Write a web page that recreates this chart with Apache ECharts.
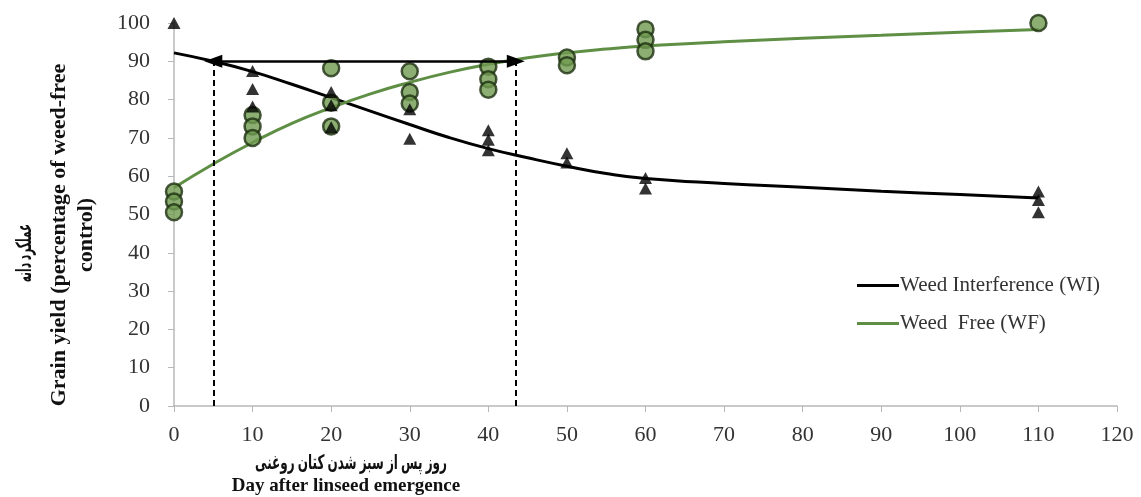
<!DOCTYPE html>
<html>
<head>
<meta charset="utf-8">
<script src="https://cdn.jsdelivr.net/npm/echarts@6/dist/echarts.min.js"></script>
<style>
html, body { margin: 0; padding: 0; background: #fff; }
#chart { width: 1141px; height: 497px; }
</style>
</head>
<body>
<div id="chart"></div>
<script>
var myChart = echarts.init(document.getElementById("chart"));

// observed points, weed interference (triangles)
var wiPoints = [
    [0, 100],
    [10, 87.5], [10, 82.8], [10, 78.2],
    [20, 82], [20, 78.5], [20, 72.8],
    [30, 77.5], [30, 69.8],
    [40, 72], [40, 69.5], [40, 66.8],
    [50, 66], [50, 63.6],
    [60, 59.5], [60, 56.8],
    [110, 56], [110, 53.8], [110, 50.6]
];
// observed points, weed free (circles)
var wfPoints = [
    [0, 56], [0, 53.4], [0, 50.6],
    [10, 76], [10, 73], [10, 70],
    [20, 88.2], [20, 79.2], [20, 73],
    [30, 87.4], [30, 82], [30, 79],
    [40, 88.6], [40, 85.3], [40, 82.6],
    [50, 91], [50, 89],
    [60, 98.4], [60, 95.6], [60, 92.6],
    [110, 100]
];
// fitted curves
var curveDays = [0, 5, 10, 15, 20, 25, 30, 35, 40, 45, 50, 55, 60, 70, 80, 90, 100, 110];
var wiCurve = [92.2, 90, 87.3, 84, 80.5, 77, 73.5, 70.1, 67.2, 64.8, 62.6, 60.7, 59.4, 58.1, 57.1, 56.1, 55.2, 54.3];
var wfCurve = [57, 63.2, 68.8, 73.8, 77.9, 81.5, 84.5, 87.1, 89.2, 90.9, 92.2, 93.2, 94, 95.1, 96, 96.8, 97.6, 98.3];
// critical period limits (days) and yield level of the arrow
var criticalDays = [5, 43.5];
var criticalLevel = 90;

var xTicks = [0, 120, 10];
var yTicks = [0, 100, 10];

var serif = "'Liberation Serif', 'Times New Roman', 'DejaVu Serif', serif";
var persian = "'Noto Sans', 'DejaVu Sans', sans-serif";

function pairs(xs, ys) {
    return xs.map(function (x, i) { return [x, ys[i]]; });
}

var option = {
    backgroundColor: "#fff",
    animation: false,
    grid: { left: 174, right: 24, top: 23, bottom: 91, outerBoundsMode: "none" },
    xAxis: {
        type: "value",
        min: xTicks[0],
        max: xTicks[1],
        interval: xTicks[2],
        axisLine: { lineStyle: { color: "#b8b8b8", width: 1.5 } },
        axisTick: { show: true, length: 6, lineStyle: { color: "#b8b8b8" } },
        splitLine: { show: false },
        axisLabel: { color: "#333", fontFamily: serif, fontSize: 22, margin: 18 }
    },
    yAxis: {
        type: "value",
        min: yTicks[0],
        max: yTicks[1],
        interval: yTicks[2],
        axisLine: { show: true, lineStyle: { color: "#b8b8b8", width: 1.5 } },
        axisTick: { show: true, length: 6, lineStyle: { color: "#b8b8b8" } },
        splitLine: { show: false },
        axisLabel: { color: "#333", fontFamily: serif, fontSize: 22, margin: 24 }
    },
    legend: {
        orient: "vertical",
        left: 852,
        top: 270,
        itemWidth: 42,
        itemHeight: 3,
        itemGap: 17,
        icon: "rect",
        data: ["Weed Interference (WI)", "Weed  Free (WF)"],
        textStyle: { fontFamily: serif, fontSize: 21, color: "#333", padding: [0, 0, 0, -4] }
    },
    graphic: [
        {
            type: "text", x: 25, y: 253, rotation: Math.PI / 2, scaleX: 0.5,
            style: { text: "عملکرد دانه", font: "bold 21px " + persian, fill: "#111", align: "center", verticalAlign: "middle" }
        },
        {
            type: "text", x: 59, y: 235, rotation: Math.PI / 2,
            style: { text: "Grain yield (percentage of weed-free", font: "bold 22px " + serif, fill: "#111", align: "center", verticalAlign: "middle" }
        },
        {
            type: "text", x: 86, y: 235, rotation: Math.PI / 2,
            style: { text: "control)", font: "bold 22px " + serif, fill: "#111", align: "center", verticalAlign: "middle" }
        },
        {
            type: "text", x: 351, y: 463, scaleX: 0.6,
            style: { text: "روز پس از سبز شدن کتان روغنی", font: "bold 20px " + persian, fill: "#111", align: "center", verticalAlign: "middle" }
        },
        {
            type: "text", x: 346, y: 486,
            style: { text: "Day after linseed emergence", font: "bold 19px " + serif, fill: "#111", align: "center", verticalAlign: "middle" }
        }
    ],
    series: [
        {
            name: "Weed Interference (WI)",
            type: "line",
            data: pairs(curveDays, wiCurve),
            smooth: true,
            showSymbol: false,
            color: "#000",
            lineStyle: { color: "#000", width: 3 },
            z: 3
        },
        {
            name: "Weed  Free (WF)",
            type: "line",
            data: pairs(curveDays, wfCurve),
            smooth: true,
            showSymbol: false,
            color: "#5f8f45",
            lineStyle: { color: "#5f8f45", width: 3 },
            z: 3
        },
        {
            name: "WI obs",
            type: "scatter",
            data: wiPoints,
            symbol: "triangle",
            symbolSize: [13, 12],
            itemStyle: { color: "#000" },
            z: 5
        },
        {
            name: "WF obs",
            type: "scatter",
            data: wfPoints,
            symbol: "circle",
            symbolSize: 16,
            itemStyle: { color: "#6f9a50", borderColor: "#1d3010", borderWidth: 2.5 },
            z: 4
        },
        {
            name: "critical",
            type: "line",
            data: [],
            markLine: {
                silent: true,
                symbol: ["none", "none"],
                label: { show: false },
                lineStyle: { color: "#000", type: [6, 4], width: 2 },
                data: criticalDays.map(function (d) {
                    return [{ coord: [d, 0] }, { coord: [d, criticalLevel] }];
                })
            }
        },
        {
            name: "arrow",
            type: "line",
            data: [],
            markLine: {
                silent: true,
                symbol: ["triangle", "triangle"],
                symbolSize: [13, 18],
                label: { show: false },
                lineStyle: { color: "#000", type: "solid", width: 2.5 },
                data: [[{ coord: [criticalDays[0], criticalLevel] }, { coord: [criticalDays[1], criticalLevel] }]]
            }
        }
    ]
};

myChart.setOption(option);
</script>
</body>
</html>
